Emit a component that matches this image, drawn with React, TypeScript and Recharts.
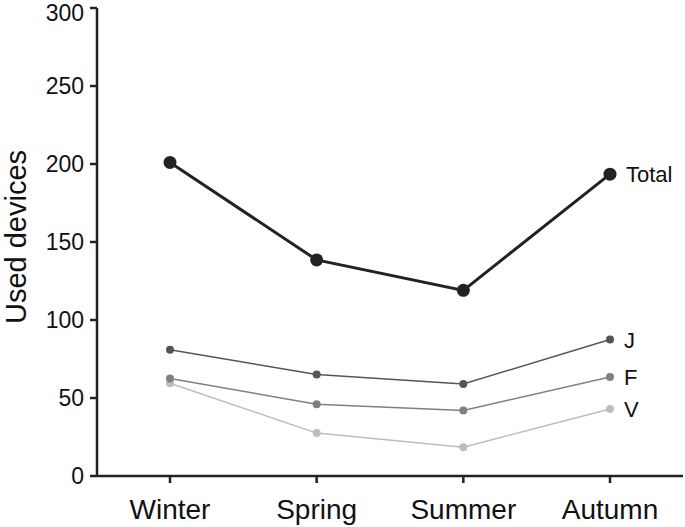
import React from 'react';
import { LineChart, Line, XAxis, YAxis } from 'recharts';

const seasons = ['Winter', 'Spring', 'Summer', 'Autumn'];
const totalValues = [201, 138.5, 119, 193.5];
const jValues = [81, 65, 59, 87.5];
const fValues = [62.5, 46, 42, 63.5];
const vValues = [59.5, 27.5, 18.5, 43];
const yTicks = [0, 50, 100, 150, 200, 250, 300];

const data = seasons.map((season, i) => ({
  season,
  total: totalValues[i],
  j: jValues[i],
  f: fValues[i],
  v: vValues[i]
}));

const FONT = '"Liberation Sans", Arial, sans-serif';
const AXIS_COLOR = '#222';

// name label drawn only next to the last point of a series
const endLabel = (name: string, dx: number) => (props: any) => {
  const { x, y, index } = props;
  if (index !== seasons.length - 1) return null;
  return (
    <text x={x + dx} y={y} dy={8} fontSize={22} fontFamily={FONT} fill="#111">
      {name}
    </text>
  );
};

const yLabel = () => (
  <text
    x={26}
    y={237}
    transform="rotate(-90, 26, 237)"
    textAnchor="middle"
    fontSize={29}
    fontFamily={FONT}
    fill="#111"
  >
    Used devices
  </text>
);

const App: React.FC = () => {
  return (
    <div style={{ position: 'absolute', left: 0, top: 0, width: 685, height: 527, background: '#fff' }}>
      <LineChart
        width={685}
        height={527}
        data={data}
        margin={{ top: 8, right: 2, left: 0, bottom: 0 }}
      >
        <XAxis
          dataKey="season"
          height={51}
          padding={{ left: 73, right: 73 }}
          tickSize={7}
          tickMargin={16}
          stroke={AXIS_COLOR}
          strokeWidth={2.5}
          tick={{ fill: '#111', fontSize: 28, fontFamily: FONT }}
        />
        <YAxis
          width={97}
          domain={[0, 300]}
          ticks={yTicks}
          tickSize={7}
          tickMargin={6}
          stroke={AXIS_COLOR}
          strokeWidth={2.5}
          tick={{ fill: '#111', fontSize: 23, fontFamily: FONT }}
          label={{ content: yLabel }}
        />
        <Line
          dataKey="v"
          stroke="#bdbdbd"
          strokeWidth={1.5}
          dot={{ r: 4, fill: '#bdbdbd', stroke: 'none' }}
          label={endLabel('V', 14)}
          isAnimationActive={false}
        />
        <Line
          dataKey="f"
          stroke="#808080"
          strokeWidth={1.5}
          dot={{ r: 4, fill: '#808080', stroke: 'none' }}
          label={endLabel('F', 14)}
          isAnimationActive={false}
        />
        <Line
          dataKey="j"
          stroke="#555"
          strokeWidth={1.5}
          dot={{ r: 4, fill: '#555', stroke: 'none' }}
          label={endLabel('J', 14)}
          isAnimationActive={false}
        />
        <Line
          dataKey="total"
          stroke="#222"
          strokeWidth={3}
          dot={{ r: 6.5, fill: '#222', stroke: 'none' }}
          label={endLabel('Total', 16)}
          isAnimationActive={false}
        />
      </LineChart>
    </div>
  );
};

export default App;
